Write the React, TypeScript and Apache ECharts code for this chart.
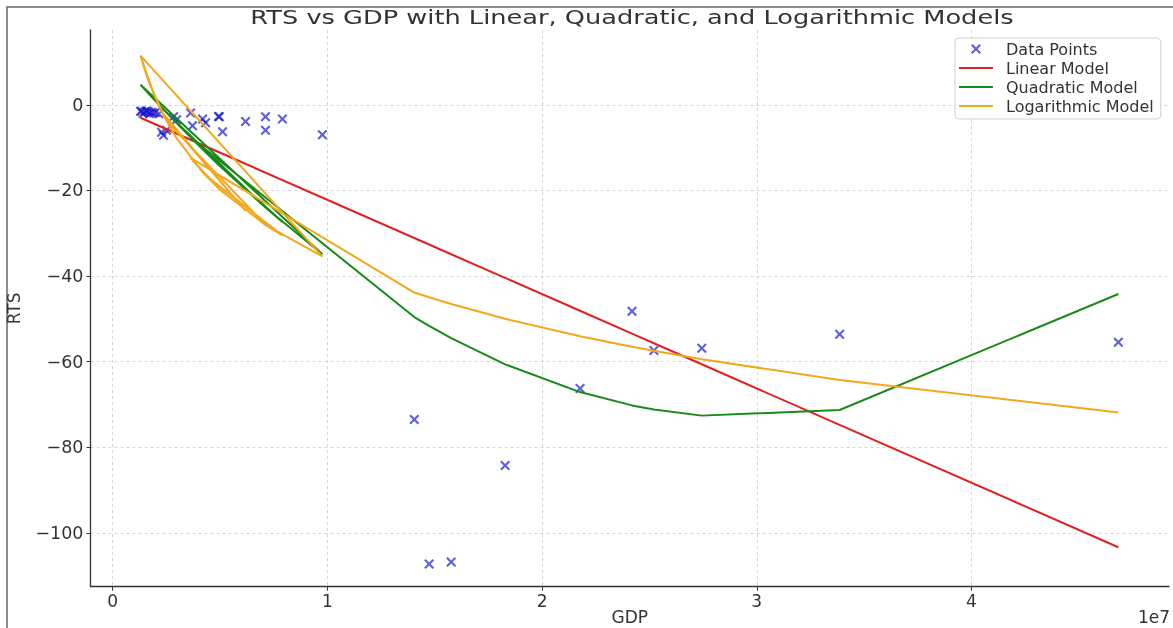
import React, { useEffect, useRef } from "react";
import * as echarts from "echarts";

// GDP of each observation (in data order, as plotted)
const gdp = [
  1500000, 1800000, 1350000, 2000000, 1580000, 1720000, 2510000, 7120000, 9770000, 1300000,
  1900000, 1420000, 1650000, 2150000, 2370000, 6190000, 2280000, 2840000, 2980000, 4190000,
  4930000, 3720000, 5120000, 4330000, 7910000, 7120000, 4970000, 3630000,
  14050000, 14740000, 15770000, 18280000, 21770000, 24190000, 25210000, 27440000, 33860000, 46840000,
];

// Observed RTS
const rts = [
  -1.6, -1.7, -1.5, -1.8, -1.4, -2.0, -5.9, -2.8, -7.0, -1.5,
  -1.9, -2.0, -1.6, -2.1, -7.1, -3.9, -6.4, -2.8, -3.5, -3.3,
  -2.7, -4.9, -6.3, -4.2, -3.3, -5.9, -2.8, -1.9,
  -73.5, -107.3, -106.8, -84.3, -66.3, -48.2, -57.4, -56.9, -53.6, -55.5,
];

const linearModel = [
  -3.45, -4.11, -3.12, -4.55, -3.62, -3.93, -5.67, -15.83, -21.67, -3.01,
  -4.33, -3.27, -3.78, -4.88, -5.36, -13.78, -5.17, -6.4, -6.71, -9.37,
  -11.01, -8.34, -11.42, -9.68, -17.57, -15.83, -11.09, -8.14,
  -31.11, -32.63, -34.9, -40.43, -48.12, -53.46, -55.7, -60.62, -74.77, -103.38,
];

const quadraticModel = [
  3.61, 1.98, 4.43, 0.9, 3.17, 2.41, -1.81, -24.0, -34.89, 4.7,
  1.44, 4.04, 2.79, 0.1, -1.07, -19.86, -0.59, -3.53, -4.26, -10.37,
  -13.97, -8.03, -14.88, -11.06, -27.39, -24.0, -14.16, -7.58,
  -49.59, -51.63, -54.5, -60.63, -67.12, -70.23, -71.2, -72.62, -71.3, -44.2,
];

const logModel = [
  8.18, 3.94, 10.63, 1.49, 6.97, 4.99, -3.8, -28.05, -35.41, 11.51,
  2.68, 9.45, 5.96, -0.2, -2.46, -24.79, -1.56, -6.67, -7.79, -15.72,
  -19.5, -12.95, -20.38, -16.48, -30.5, -28.05, -19.69, -12.38,
  -43.86, -44.97, -46.55, -49.98, -54.05, -56.5, -57.46, -59.43, -64.32, -71.87,
];

const xTicks = [0, 10000000, 20000000, 30000000, 40000000];
const yTicks = [-100, -80, -60, -40, -20, 0];

const seriesNames = ["Data Points", "Linear Model", "Quadratic Model", "Logarithmic Model"];
const title = "RTS vs GDP with Linear, Quadratic, and Logarithmic Models";

const FONT = "DejaVu Sans";
const TEXT = "#333333";
const X_SYMBOL = "path://M1.5,0L5,3.5L8.5,0L10,1.5L6.5,5L10,8.5L8.5,10L5,6.5L1.5,10L0,8.5L3.5,5L0,1.5Z";
const LINE_ICON = "path://M0,0H34V2.2H0Z";

export default function App() {
  const ref = useRef<HTMLDivElement>(null);

  useEffect(() => {
    if (!ref.current) return;
    const chart = echarts.init(ref.current, undefined, { renderer: "svg" });
    const pair = (vals: number[]) => gdp.map((g, i) => [g, vals[i]]);
    const gridLine = { show: true, lineStyle: { color: "#d6d6d6", type: [3, 3], width: 1 } };

    chart.setOption({
      animation: false,
      grid: { left: 90.5, right: 4, top: 30, bottom: 41.3, outerBoundsMode: "none", containLabel: false },
      xAxis: {
        type: "value",
        min: -1030000,
        max: 49200000,
        minInterval: 10000000,
        maxInterval: 10000000,
        name: "GDP",
        nameLocation: "middle",
        nameGap: 22,
        nameMoveOverlap: false,
        nameTextStyle: { fontFamily: FONT, fontSize: 17, color: TEXT },
        axisLine: { onZero: false, lineStyle: { color: "#333", width: 1.3 } },
        axisTick: { length: 4, customValues: xTicks, lineStyle: { color: "#333" } },
        axisLabel: {
          customValues: xTicks,
          margin: 6,
          fontFamily: FONT,
          fontSize: 17,
          color: TEXT,
          formatter: (v: number) => String(Math.round(v / 10000000)),
        },
        splitLine: gridLine,
      },
      yAxis: {
        type: "value",
        min: -112.6,
        max: 17.5,
        minInterval: 20,
        maxInterval: 20,
        name: "RTS",
        nameLocation: "middle",
        nameGap: 68,
        nameMoveOverlap: false,
        nameTextStyle: { fontFamily: FONT, fontSize: 17, color: TEXT },
        axisLine: { show: true, onZero: false, lineStyle: { color: "#333", width: 1.3 } },
        axisTick: { show: true, length: 4, customValues: yTicks, lineStyle: { color: "#333" } },
        axisLabel: {
          customValues: yTicks,
          margin: 7,
          fontFamily: FONT,
          fontSize: 17.5,
          color: TEXT,
          formatter: (v: number) => (v < 0 ? "\u2212" + Math.abs(v) : String(v)),
        },
        splitLine: gridLine,
      },
      legend: {
        orient: "vertical",
        left: 955,
        top: 38,
        itemWidth: 34,
        itemHeight: 10,
        itemGap: 3,
        padding: [3, 7, 5, 4],
        backgroundColor: "rgba(255,255,255,0.85)",
        borderColor: "#d0d0d0",
        borderWidth: 1,
        borderRadius: 4,
        textStyle: { fontFamily: FONT, fontSize: 16, color: TEXT, padding: [0, 0, 0, 8] },
        data: [
          { name: seriesNames[0], icon: X_SYMBOL },
          { name: seriesNames[1], icon: LINE_ICON },
          { name: seriesNames[2], icon: LINE_ICON },
          { name: seriesNames[3], icon: LINE_ICON },
        ],
      },
      graphic: [
        {
          type: "rect",
          silent: true,
          shape: { x: 7, y: 7, width: 1200, height: 700 },
          style: { fill: "none", stroke: "#666", lineWidth: 1.5 },
        },
        {
          type: "text",
          x: 632,
          y: 17,
          scaleX: 1.35,
          style: { text: title, fontFamily: FONT, fontSize: 19, fill: TEXT, align: "center", verticalAlign: "middle" },
        },
        {
          type: "text",
          x: 1170,
          y: 617,
          style: { text: "1e7", fontFamily: FONT, fontSize: 17, fill: TEXT, align: "right", verticalAlign: "middle" },
        },
      ],
      series: [
        {
          name: seriesNames[0],
          type: "scatter",
          data: pair(rts),
          symbol: X_SYMBOL,
          symbolSize: 10,
          symbolKeepAspect: true,
          itemStyle: { color: "rgba(20,20,200,0.85)" },
          z: 2,
        },
        {
          name: seriesNames[1],
          type: "line",
          data: pair(linearModel),
          symbol: "none",
          showSymbol: false,
          lineStyle: { color: "#dd2222", width: 2 },
          itemStyle: { color: "#dd2222" },
          z: 3,
        },
        {
          name: seriesNames[2],
          type: "line",
          data: pair(quadraticModel),
          symbol: "none",
          showSymbol: false,
          lineStyle: { color: "#178a17", width: 2 },
          itemStyle: { color: "#178a17" },
          z: 3,
        },
        {
          name: seriesNames[3],
          type: "line",
          data: pair(logModel),
          symbol: "none",
          showSymbol: false,
          lineStyle: { color: "#f2a81d", width: 2 },
          itemStyle: { color: "#f2a81d" },
          z: 3,
        },
      ],
    });
    return () => chart.dispose();
  }, []);

  return <div ref={ref} style={{ position: "fixed", left: 0, top: 0, width: 1173, height: 628 }} />;
}
